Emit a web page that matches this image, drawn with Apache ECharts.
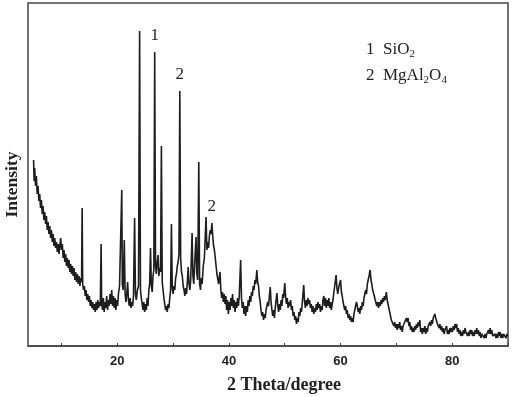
<!DOCTYPE html>
<html><head><meta charset="utf-8">
<script src="https://cdn.jsdelivr.net/npm/echarts@6/dist/echarts.min.js"></script>
<style>html,body{margin:0;padding:0;background:#fff}#c{width:512px;height:397px}</style>
</head><body><div id="c"></div>
<script>
// 2θ (degree), intensity (a.u.)
const lowAngle = [[5.0,186],[5.1,165],[5.2,178],[5.35,160],[5.5,170],[5.65,152],[5.8,160],[5.95,145],[6.1,152],[6.25,138],[6.4,146],[6.55,132],[6.7,140],[6.85,126],[7.0,134],[7.15,122],[7.3,130],[7.45,116],[7.6,124],[7.75,112],[7.9,120],[8.05,108],[8.2,116],[8.35,104],[8.5,112],[8.65,100],[8.8,108],[8.95,98],[9.1,104],[9.25,94],[9.4,102],[9.55,92],[9.7,100],[9.85,108],[10.0,96],[10.15,102],[10.3,88],[10.45,96],[10.6,84],[10.75,92],[10.9,80],[11.05,88],[11.2,78],[11.35,86],[11.5,74],[11.65,82],[11.8,72],[11.95,80],[12.1,70],[12.25,78],[12.4,66],[12.55,74],[12.7,64],[12.85,72],[13.0,62],[13.15,70],[13.3,60],[13.45,68],[13.6,64],[13.7,138],[13.8,62],[13.95,56],[14.1,60],[14.25,50],[14.4,56],[14.55,46],[14.7,52],[14.85,44],[15.0,50],[15.15,40],[15.3,46],[15.45,38],[15.6,44],[15.75,36],[15.9,42],[16.05,34],[16.2,44],[16.35,36],[16.5,46],[16.65,38],[16.8,44],[16.95,40],[17.1,102],[17.2,42],[17.35,36],[17.5,48],[17.65,34],[17.8,44],[17.95,38],[18.1,50],[18.25,36],[18.4,46],[18.55,40],[18.7,52],[18.85,42],[19.0,56],[19.15,40],[19.3,50],[19.45,38],[19.6,48],[19.75,36],[19.9,46],[20.05,40]];
const peakRegion = [[20.2,52],[20.4,60],[20.6,58],[20.8,156],[20.9,62],[21.05,56],[21.25,106],[21.4,52],[21.55,44],[21.7,52],[21.85,64],[22.0,46],[22.15,40],[22.3,48],[22.45,38],[22.6,44],[22.75,40],[22.9,50],[23.1,128],[23.25,52],[23.4,46],[23.6,56],[23.8,60],[24.0,315],[24.15,56],[24.3,48],[24.45,42],[24.6,36],[24.75,44],[24.9,34],[25.05,42],[25.2,36],[25.35,48],[25.5,40],[25.65,56],[25.8,62],[25.95,98],[26.1,60],[26.25,54],[26.4,70],[26.55,76],[26.7,294],[26.85,80],[27.0,72],[27.15,84],[27.3,91],[27.45,70],[27.6,78],[27.75,74],[27.9,200],[28.05,64],[28.2,56],[28.35,48],[28.5,42],[28.65,36],[28.8,40],[28.95,34],[29.1,42],[29.25,38],[29.4,48],[29.55,56],[29.7,122],[29.85,58],[30.0,52],[30.15,60],[30.3,56],[30.45,68],[30.6,72],[30.75,80],[30.9,84],[31.05,92],[31.2,255],[31.35,88],[31.5,74],[31.65,70],[31.8,60],[31.95,56],[32.1,50],[32.25,58],[32.4,52],[32.55,64],[32.7,79],[32.85,62],[33.0,56],[33.15,66],[33.4,113],[33.55,70],[33.7,62],[33.85,80],[34.1,109],[34.25,72],[34.4,66],[34.6,184],[34.75,62],[34.9,56],[35.05,68],[35.2,62],[35.4,80],[35.6,88],[35.9,129],[36.05,96],[36.2,104],[36.35,98],[36.5,110],[36.65,116],[36.8,112],[36.95,123],[37.1,110],[37.25,100],[37.4,96],[37.55,88],[37.7,80],[37.85,72],[38.0,70]];
const midAngle = [[38.15,62],[38.4,74],[38.55,56],[38.7,48],[38.85,54],[39.0,44],[39.15,52],[39.3,42],[39.45,50],[39.6,36],[39.75,46],[39.9,32],[40.05,44],[40.2,36],[40.35,48],[40.5,40],[40.65,52],[40.8,38],[40.95,46],[41.1,34],[41.25,44],[41.4,38],[41.55,48],[41.7,40],[41.85,50],[42.1,86],[42.25,48],[42.4,38],[42.55,44],[42.7,32],[42.85,40],[43.0,30],[43.15,40],[43.3,34],[43.45,46],[43.6,40],[43.75,50],[43.9,44],[44.05,54],[44.2,50],[44.35,60],[44.5,56],[44.65,66],[44.8,62],[45.0,76],[45.15,64],[45.3,60],[45.45,50],[45.6,44],[45.75,36],[45.9,30],[46.05,34],[46.2,26],[46.35,32],[46.5,28],[46.65,36],[46.8,34],[46.95,44],[47.1,40],[47.25,50],[47.4,59],[47.55,44],[47.7,36],[47.85,30],[48.0,36],[48.15,28],[48.3,38],[48.45,46],[48.6,53],[48.75,40],[48.9,34],[49.05,42],[49.2,36],[49.35,46],[49.5,40],[49.65,52],[49.8,48],[50.0,63],[50.15,50],[50.3,42],[50.45,48],[50.6,38],[50.75,44],[50.9,40],[51.05,46],[51.2,36],[51.35,40],[51.5,30],[51.65,34],[51.8,26],[51.95,30],[52.1,22],[52.25,28],[52.4,24],[52.55,34],[52.7,30],[52.85,38],[53.0,34],[53.15,44],[53.4,61],[53.55,44],[53.7,38],[53.85,46],[54.0,40],[54.15,48],[54.3,42],[54.45,46],[54.6,38],[54.75,42],[54.9,34],[55.05,40],[55.2,32],[55.35,38],[55.5,34],[55.65,42],[55.8,36],[55.95,44],[56.1,38],[56.25,42],[56.4,34],[56.55,40],[56.7,36],[56.85,46],[57.0,50],[57.15,40],[57.3,48],[57.45,38],[57.6,46],[57.75,40],[57.9,48],[58.05,38],[58.2,44],[58.35,36],[58.5,42],[58.65,46],[58.8,54],[58.95,60],[59.2,71],[59.35,58],[59.5,52],[59.65,58],[59.8,56],[60.0,66],[60.15,54],[60.3,50],[60.45,44],[60.6,40],[60.75,36],[60.9,40],[61.05,32],[61.2,36],[61.35,28],[61.5,32],[61.65,26],[61.8,30],[61.95,24],[62.1,28],[62.25,24],[62.4,32],[62.55,30],[62.7,40],[62.85,44],[63.0,40],[63.15,34],[63.3,38],[63.45,32],[63.6,40],[63.75,36],[63.9,44],[64.05,40],[64.2,48],[64.35,46],[64.5,56],[64.65,52],[64.8,62],[64.95,60],[65.1,70],[65.3,76],[65.45,66],[65.6,62],[65.75,56],[65.9,58],[66.05,50],[66.2,46],[66.35,48],[66.5,40],[66.65,44],[66.8,38],[66.95,44],[67.1,40],[67.25,46],[67.4,42],[67.55,48],[67.7,44],[67.85,50],[68.0,46],[68.2,54],[68.35,46],[68.5,44],[68.65,38],[68.8,34],[68.95,30],[69.1,26],[69.25,24],[69.4,28],[69.55,20],[69.7,24],[69.85,18]];
const highAngle = [[70.0,22],[70.15,16],[70.3,22],[70.45,18],[70.6,24],[70.75,16],[70.9,20],[71.05,14],[71.2,20],[71.35,18],[71.5,24],[71.65,22],[71.8,28],[71.95,24],[72.1,28],[72.25,20],[72.4,24],[72.55,16],[72.7,20],[72.85,14],[73.0,18],[73.15,14],[73.3,20],[73.45,16],[73.6,22],[73.75,18],[73.9,24],[74.05,20],[74.2,26],[74.35,14],[74.5,18],[74.65,12],[74.8,18],[74.95,14],[75.1,20],[75.25,12],[75.4,18],[75.55,14],[75.7,20],[75.85,18],[76.0,24],[76.15,20],[76.3,26],[76.45,22],[76.6,28],[76.75,26],[76.9,32],[77.05,28],[77.2,30],[77.35,22],[77.5,24],[77.65,18],[77.8,22],[77.95,16],[78.1,20],[78.25,14],[78.4,18],[78.55,12],[78.7,16],[78.85,14],[79.0,20],[79.15,12],[79.3,16],[79.45,12],[79.6,18],[79.75,14],[79.9,18],[80.05,14],[80.2,20],[80.35,16],[80.5,22],[80.65,18],[80.8,22],[80.95,14],[81.1,18],[81.25,12],[81.4,16],[81.55,10],[81.7,14],[81.85,10],[82.0,16],[82.15,12],[82.3,18],[82.45,14],[82.6,16],[82.75,10],[82.9,14],[83.05,10],[83.2,16],[83.35,12],[83.5,16],[83.65,10],[83.8,14],[83.95,10],[84.1,16],[84.25,12],[84.4,18],[84.55,12],[84.7,16],[84.85,10],[85.0,14],[85.15,8],[85.3,12],[85.45,10],[85.6,14],[85.75,8],[85.9,12],[86.05,8],[86.2,12],[86.35,10],[86.5,16],[86.65,12],[86.8,18],[86.95,12],[87.1,16],[87.25,10],[87.4,12],[87.55,8],[87.7,12],[87.85,8],[88.0,12],[88.15,8],[88.3,14],[88.45,10],[88.6,14],[88.75,8],[88.9,12],[89.05,8],[89.2,12],[89.35,10],[89.5,14],[89.65,8],[89.8,12],[89.95,10]];
// peak annotations: [2θ, intensity, label]
const peakMarks = [[26.7,294,'1'],[31.2,255,'2'],[36.9,123,'2']];
const xLabelTicks = [20,40,60,80];
const xMinorTicks = [10,20,30,40,50,60,70,80,90];
const legendLines = ['1  SiO{s|2}','2  MgAl{s|2}O{s|4}'];

const pattern = lowAngle.concat(peakRegion, midAngle, highAngle);
const chart = echarts.init(document.getElementById('c'));
const serif = '"Liberation Serif", "Times New Roman", serif';
chart.setOption({
  animation:false,
  grid:{left:28,right:4,top:3,bottom:51,outerBoundsMode:'none',containLabel:false,show:true,borderColor:'#444',borderWidth:1.5},
  xAxis:{type:'value',min:4,max:90,
    name:'2 Theta/degree',nameLocation:'middle',nameGap:30,
    nameTextStyle:{fontFamily:serif,fontWeight:'bold',fontSize:18,color:'#222',padding:[0,0,0,32]},
    axisLine:{show:true,lineStyle:{color:'#444',width:1.5}},
    axisTick:{show:true,inside:true,length:3,lineStyle:{color:'#444'},customValues:xMinorTicks},
    axisLabel:{customValues:xLabelTicks,margin:9,fontFamily:'"Liberation Sans", Arial, sans-serif',fontWeight:'bold',fontSize:13,color:'#222'},
    splitLine:{show:false}},
  yAxis:{type:'value',min:0,max:343,
    name:'Intensity',nameLocation:'middle',nameGap:7,
    nameTextStyle:{fontFamily:serif,fontWeight:'bold',fontSize:17.5,color:'#222',padding:[0,20,0,0]},
    axisLine:{show:false},axisTick:{show:false},axisLabel:{show:false},splitLine:{show:false}},
  series:[{type:'line',data:pattern,showSymbol:false,symbol:'none',
    lineStyle:{color:'#1e1e1e',width:1.6},
    markPoint:{symbol:'circle',symbolSize:0,
      label:{show:true,position:'top',distance:8,fontFamily:serif,fontSize:17,color:'#222',formatter:p=>p.name},
      data:peakMarks.map(m=>({name:m[2],coord:[m[0],m[1]]}))}}],
  graphic:legendLines.map((t,i)=>({type:'text',left:366,top:41+i*26,
    style:{text:t,fontFamily:serif,fontSize:17,fill:'#222',
      rich:{s:{fontFamily:serif,fontSize:11,fill:'#222',padding:[10,0,0,0]}}}}))
});
</script></body></html>
